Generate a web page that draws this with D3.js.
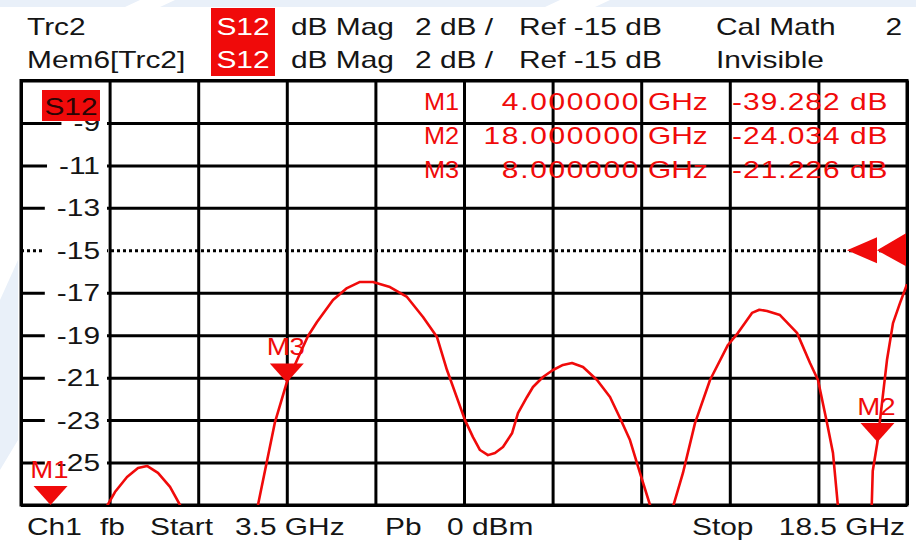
<!DOCTYPE html>
<html>
<head>
<meta charset="utf-8">
<script src="https://cdn.jsdelivr.net/npm/d3@7"></script>
<style>
  body { margin: 0; background: #fff; }
  text { font-family: "Liberation Sans", Arial, sans-serif; }
</style>
</head>
<body>
<div id="plot"></div>
<script>
// Trace data (GHz, dB). Points below -27 dB fall off the grid and get clipped
const traceFreq = [3.5, 4.0, 4.6,
  4.956, 5.091, 5.295, 5.481, 5.633, 5.819, 6.023, 6.192,
  6.6, 7.1,
  7.512, 7.8, 8.0, 8.359, 8.511, 8.782, 9.019, 9.239, 9.459, 9.747, 10.035, 10.306, 10.543, 10.712,
  11.017, 11.152, 11.271, 11.406, 11.525, 11.66, 11.813, 11.914, 12.067, 12.168, 12.337, 12.507,
  12.676, 12.828, 13.015, 13.252, 13.472, 13.641, 13.81, 13.979, 14.149,
  14.34,
  14.538, 14.707, 14.911, 15.165, 15.469, 15.639, 15.876, 16.0, 16.13, 16.35, 16.638, 16.858,
  16.993, 17.146, 17.247, 17.332,
  17.6,
  17.9, 17.92, 18.0, 18.077, 18.161, 18.263, 18.381, 18.483, 18.5];
const traceDb = [-34, -39.282, -31,
  -27.05, -26.39, -25.68, -25.26, -25.16, -25.49, -26.15, -27.0,
  -31, -31,
  -27.0, -23.09, -21.226, -19.04, -18.38, -17.34, -16.78, -16.49, -16.49, -16.73, -17.2, -18.14, -19.09, -20.64,
  -23.0, -23.8, -24.41, -24.65, -24.55, -24.27, -23.62, -22.67, -21.91, -21.44, -20.97, -20.64,
  -20.4, -20.31, -20.5, -21.11, -21.91, -22.9, -23.94, -25.49, -27.0,
  -29,
  -27.09, -25.49, -23.14, -21.11, -19.46, -18.89, -17.95, -17.8, -17.86, -18.05, -18.89, -20.31,
  -21.11, -23.14, -24.55, -27.09,
  -30,
  -27.3, -25.4, -24.034, -22.19, -20.17, -18.43, -17.49, -16.73, -16.6];

const markerNames = ["M1", "M2", "M3"];
const markerFreq = [4.0, 18.0, 8.0];
const markerDb = [-39.282, -24.034, -21.226];

const yTickLabels = [-9, -11, -13, -15, -17, -19, -21, -23, -25];
const refLevel = -15;

const headerRow1 = ["Trc2", "S12", "dB Mag", "2 dB /", "Ref -15 dB", "Cal Math", "2"];
const headerRow2 = ["Mem6[Trc2]", "S12", "dB Mag", "2 dB /", "Ref -15 dB", "Invisible"];
const footerItems = ["Ch1", "fb", "Start", "3.5 GHz", "Pb", "0 dBm", "Stop", "18.5 GHz"];

// Layout
const W = 916, H = 542;
const plotL = 21, plotR = 907, plotT = 80.5, plotB = 505;
const SX = 1.3;          // screen font is horizontally stretched
const red = "#f00a0a", ink = "#151515";

const svg = d3.select("#plot").append("svg")
  .attr("width", W).attr("height", H);

// faint watermark behind the page
svg.append("path")
  .attr("d", "M0,0 L916,0 L916,7 L0,7 Z M0,300 L18,260 L18,440 L0,470 Z")
  .attr("fill", "#e9f0f9");
svg.append("path").attr("d", "M140,0 L175,0 L160,7 L125,7 Z M560,0 L610,0 L595,7 L545,7 Z")
  .attr("fill", "#fff");

function txt(parent, x, yy, s, opt = {}) {
  const t = parent.append("text")
    .attr("transform", `translate(${x},${yy}) scale(${opt.sx || SX},1)`)
    .attr("text-anchor", opt.anchor || "start")
    .attr("fill", opt.fill || ink)
    .style("font-size", (opt.size || 23) + "px")
    .text(s);
  if (opt.ls) t.style("letter-spacing", opt.ls + "px");
  return t;
}

const x = d3.scaleLinear().domain([3.5, 18.5]).range([plotL, plotR]);
const y = d3.scaleLinear().domain([-27, -7]).range([plotB, plotT]);

// Header
const hdrX = [27, 211, 291, 415, 519, 716, 902];
[headerRow1, headerRow2].forEach((row, r) => {
  const by = 35 + r * 33;
  row.forEach((s, i) => {
    if (s === "S12") {
      svg.append("rect").attr("x", 211).attr("y", 8 + r * 34).attr("width", 64).attr("height", 34)
        .attr("fill", red);
      txt(svg, 243, by, s, { anchor: "middle", fill: "#fff" });
    } else if (i === 6) {
      txt(svg, hdrX[i], by, s, { anchor: "end" });
    } else {
      txt(svg, hdrX[i], by, s);
    }
  });
});

// Grid
const plot = svg.append("g");
const xGrid = d3.range(3.5, 18.51, 1.5);
const yGrid = d3.range(-7, -27.01, -2);

plot.append("g")
  .attr("transform", `translate(0,${plotB})`)
  .call(d3.axisBottom(x).tickValues(xGrid).tickSize(-(plotB - plotT)).tickFormat(""))
  .call(g => g.select(".domain").remove())
  .call(g => g.selectAll("line").attr("stroke", "#000").attr("stroke-width", 3));

plot.append("g")
  .attr("transform", `translate(${plotL},0)`)
  .call(d3.axisLeft(y).tickValues(yGrid).tickSize(-(plotR - plotL)).tickFormat(""))
  .call(g => g.select(".domain").remove())
  .call(g => g.selectAll("line")
    .attr("stroke", "#000").attr("stroke-width", 3)
    .attr("stroke-dasharray", d => d === refLevel ? "3,3" : null));

plot.append("rect")
  .attr("x", plotL).attr("y", plotT).attr("width", plotR - plotL).attr("height", plotB - plotT)
  .attr("fill", "none").attr("stroke", "#000").attr("stroke-width", 3);

// Y labels with white boxes breaking the grid lines
yTickLabels.forEach(v => {
  const g = plot.append("g");
  const t = txt(g, 100, y(v) + 8.5, String(v), { anchor: "end" });
  const w = t.node().getComputedTextLength() * SX;
  g.insert("rect", "text")
    .attr("x", 100 - w - 12).attr("y", y(v) - 4).attr("width", w + 19).attr("height", 8)
    .attr("fill", "#fff");
});

// S12 tag in the plot
plot.append("rect").attr("x", 42).attr("y", 90).attr("width", 58).attr("height", 31).attr("fill", red);
txt(plot, 71, 115, "S12", { anchor: "middle", fill: "#2a0505" });

// Marker table
markerNames.forEach((m, i) => {
  const by = 110 + i * 34;
  txt(plot, 424, by, m, { fill: red, sx: 1.1 });
  txt(plot, 640, by, markerFreq[i].toFixed(6), { anchor: "end", fill: red, ls: 1.3 });
  txt(plot, 648, by, "GHz", { fill: red });
  txt(plot, 732, by, markerDb[i].toFixed(3) + " dB", { fill: red, ls: 0.8 });
});

// Trace
svg.append("clipPath").attr("id", "clip")
  .append("rect").attr("x", plotL).attr("y", plotT).attr("width", plotR - plotL).attr("height", plotB - plotT);

const line = d3.line()
  .x((d, i) => x(traceFreq[i]))
  .y(d => y(d));

plot.append("path")
  .datum(traceDb)
  .attr("clip-path", "url(#clip)")
  .attr("d", line)
  .attr("fill", "none")
  .attr("stroke", red)
  .attr("stroke-width", 2.6)
  .attr("stroke-linejoin", "round");

// Marker triangles
markerNames.forEach((m, i) => {
  const px = x(markerFreq[i]);
  const py = y(Math.max(-27, markerDb[i]));
  plot.append("path")
    .attr("d", `M${px - 17},${py - 19} L${px + 17},${py - 19} L${px},${py} Z`)
    .attr("fill", red);
  txt(plot, px - 1, py - 27, m, { anchor: "middle", fill: red, sx: 1.2 });
});

// Reference level arrows on the right edge
const ry = y(refLevel);
plot.append("path").attr("d", `M847,${ry} L877,${ry - 13} L877,${ry + 13} Z`).attr("fill", red);
plot.append("path").attr("d", `M877,${ry} L906,${ry - 17} L906,${ry + 16} Z`).attr("fill", red);

// Footer
const footX = [27, 100, 150, 235, 385, 447, 692, 905];
footerItems.forEach((s, i) => {
  txt(svg, footX[i], 535, s, { anchor: i === footerItems.length - 1 ? "end" : "start" });
});
</script>
</body>
</html>
